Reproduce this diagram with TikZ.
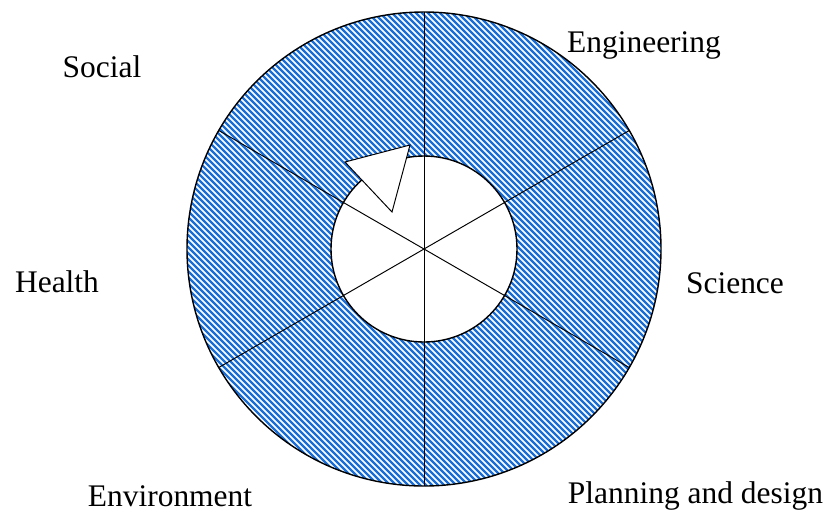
\documentclass[tikz,border=0pt]{standalone}
\usepackage{fontspec}
\setmainfont{Liberation Serif}

\tikzset{
  sector label/.style={anchor=base, inner sep=0pt, font=\fontsize{17.9}{21}\selectfont},
  spoke/.style={draw=black, line width=0.55pt},
}
\definecolor{hatchblue}{RGB}{24,110,214}

\begin{document}
\begin{tikzpicture}[x=0.02cm, y=0.02cm, line width=0.55pt]

  % --- Parameter ---
  \def\outerrad{237}   % outer ring
  \def\innerrad{93}    % inner white disc

  \useasboundingbox (-424,-266) rectangle (406,249);

  \coordinate (M) at (0,0);

  % --- hatched ring ---
  \begin{scope}[even odd rule]
    \clip (M) circle [radius=\outerrad] (M) circle [radius=\innerrad];
    \foreach \c in {-342,-336,...,342}
      \draw[hatchblue, line width=1.25pt] (\c-300,300) -- (\c+300,-300);
  \end{scope}
  \draw[line width=0.8pt] (M) circle [radius=\outerrad];
  \draw[line width=0.8pt] (M) circle [radius=\innerrad];

  % --- spokes ---
  \foreach \a in {90,150,210} {
    \coordinate (P\a) at (\a:\outerrad);
    \coordinate (Q\a) at (\a+180:\outerrad);
    \draw[spoke] (P\a) -- (Q\a);
  }

  % --- arrow head on inner circle ---
  \coordinate (tipA) at (-79,87);
  \coordinate (tipB) at (-14,104);
  \coordinate (tipC) at (-32,37);
  \draw[fill=white] (tipA) -- (tipB) -- (tipC) -- cycle;

  % --- labels ---
  \node[sector label] (social)   at (-322,172)  {Social};
  \node[sector label] (engin)    at (220,197)   {Engineering};
  \node[sector label] (health)   at (-367,-43)  {Health};
  \node[sector label] (science)  at (311,-44)   {Science};
  \node[sector label] (environ)  at (-254,-257) {Environment};
  \node[sector label] (planning) at (271.5,-254) {Planning and design};

\end{tikzpicture}
\end{document}
